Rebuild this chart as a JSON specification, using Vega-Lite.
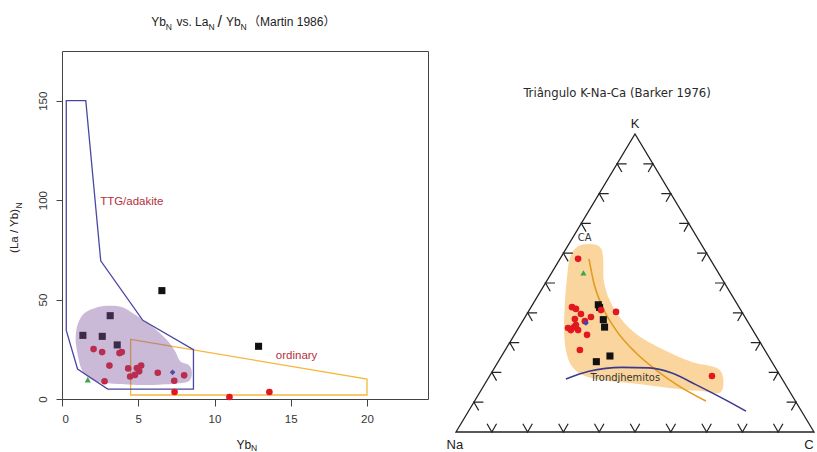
{
  "$schema": "https://vega.github.io/schema/vega-lite/v6.json",
  "background": "white",
  "padding": {"left": 8, "top": 13, "right": 0, "bottom": 0},
  "spacing": 10,
  "config": {"view": {"stroke": null}, "font": "Liberation Sans"},
  "datasets": {
    "martin": [
      {"yb": 6.55, "lay": 54.5, "grp": "grupo 1"},
      {"yb": 3.16, "lay": 41.9, "grp": "grupo 1"},
      {"yb": 1.37, "lay": 32.0, "grp": "grupo 1"},
      {"yb": 2.64, "lay": 31.5, "grp": "grupo 1"},
      {"yb": 3.62, "lay": 27.2, "grp": "grupo 1"},
      {"yb": 12.89, "lay": 26.5, "grp": "grupo 1"},
      {"yb": 2.07, "lay": 25.1, "grp": "grupo 2"},
      {"yb": 2.63, "lay": 23.6, "grp": "grupo 2"},
      {"yb": 3.77, "lay": 23.1, "grp": "grupo 2"},
      {"yb": 3.92, "lay": 23.6, "grp": "grupo 2"},
      {"yb": 3.11, "lay": 16.8, "grp": "grupo 2"},
      {"yb": 4.34, "lay": 15.4, "grp": "grupo 2"},
      {"yb": 4.91, "lay": 15.6, "grp": "grupo 2"},
      {"yb": 5.19, "lay": 16.8, "grp": "grupo 2"},
      {"yb": 5.06, "lay": 13.9, "grp": "grupo 2"},
      {"yb": 4.78, "lay": 12.1, "grp": "grupo 2"},
      {"yb": 4.47, "lay": 11.3, "grp": "grupo 2"},
      {"yb": 2.79, "lay": 8.9, "grp": "grupo 2"},
      {"yb": 6.28, "lay": 13.2, "grp": "grupo 2"},
      {"yb": 7.36, "lay": 9.2, "grp": "grupo 2"},
      {"yb": 8.01, "lay": 11.9, "grp": "grupo 2"},
      {"yb": 7.38, "lay": 3.5, "grp": "grupo 2"},
      {"yb": 10.98, "lay": 1.0, "grp": "grupo 2"},
      {"yb": 13.6, "lay": 3.5, "grp": "grupo 2"},
      {"yb": 1.69, "lay": 9.7, "grp": "grupo 3"},
      {"yb": 7.25, "lay": 13.4, "grp": "grupo 4"}
    ],
    "campos": [
      {"campo": "TTG/adakite", "i": 1, "yb": 0.28, "lay": 150},
      {"campo": "TTG/adakite", "i": 2, "yb": 1.56, "lay": 150},
      {"campo": "TTG/adakite", "i": 3, "yb": 2.54, "lay": 69.5},
      {"campo": "TTG/adakite", "i": 4, "yb": 5.3, "lay": 39.6},
      {"campo": "TTG/adakite", "i": 5, "yb": 8.62, "lay": 24.8},
      {"campo": "TTG/adakite", "i": 6, "yb": 8.62, "lay": 5.0},
      {"campo": "TTG/adakite", "i": 7, "yb": 3.0, "lay": 5.0},
      {"campo": "TTG/adakite", "i": 8, "yb": 1.02, "lay": 15.1},
      {"campo": "TTG/adakite", "i": 9, "yb": 0.28, "lay": 34.5},
      {"campo": "ordinary", "i": 1, "yb": 4.5, "lay": 30},
      {"campo": "ordinary", "i": 2, "yb": 20, "lay": 10},
      {"campo": "ordinary", "i": 3, "yb": 20, "lay": 2},
      {"campo": "ordinary", "i": 4, "yb": 4.5, "lay": 2}
    ],
    "mancha": [
      {"i": 1, "yb": 0.97, "lay": 24.8},
      {"i": 2, "yb": 0.9, "lay": 31.7},
      {"i": 3, "yb": 1.06, "lay": 38.2},
      {"i": 4, "yb": 1.48, "lay": 43.2},
      {"i": 5, "yb": 2.18, "lay": 45.8},
      {"i": 6, "yb": 2.94, "lay": 46.9},
      {"i": 7, "yb": 3.92, "lay": 46.3},
      {"i": 8, "yb": 4.8, "lay": 42.4},
      {"i": 9, "yb": 5.89, "lay": 36.6},
      {"i": 10, "yb": 6.87, "lay": 29.8},
      {"i": 11, "yb": 7.42, "lay": 24.0},
      {"i": 12, "yb": 7.75, "lay": 19.0},
      {"i": 13, "yb": 8.3, "lay": 17.2},
      {"i": 14, "yb": 8.51, "lay": 13.9},
      {"i": 15, "yb": 8.41, "lay": 9.7},
      {"i": 16, "yb": 7.86, "lay": 8.0},
      {"i": 17, "yb": 6.33, "lay": 7.2},
      {"i": 18, "yb": 4.58, "lay": 7.2},
      {"i": 19, "yb": 2.83, "lay": 8.0},
      {"i": 20, "yb": 1.95, "lay": 9.7},
      {"i": 21, "yb": 1.3, "lay": 14.7}
    ],
    "rotulos_izq": [
      {"rol": "campo", "txt": "TTG/adakite", "yb": 2.5, "lay": 99.1},
      {"rol": "campo", "txt": "ordinary", "yb": 14.02, "lay": 21.5},
      {"rol": "texto", "txt": "Yb", "yb": 5.85, "lay": 187.6},
      {"rol": "texto", "txt": "vs. La", "yb": 7.5, "lay": 187.6},
      {"rol": "barra", "txt": "/", "yb": 10.2, "lay": 187.3},
      {"rol": "texto", "txt": "Yb", "yb": 10.75, "lay": 187.6},
      {"rol": "texto", "txt": "（Martin 1986）", "yb": 12.2, "lay": 187.6},
      {"rol": "texto", "txt": "Yb", "yb": 11.44, "lay": -25.14},
      {"rol": "subindice", "txt": "N", "yb": 6.81, "lay": 185.8},
      {"rol": "subindice", "txt": "N", "yb": 9.6, "lay": 185.8},
      {"rol": "subindice", "txt": "N", "yb": 11.71, "lay": 185.8},
      {"rol": "subindice", "txt": "N", "yb": 12.4, "lay": -26.15},
      {"rol": "eje_y", "txt": "(La / Yb)", "yb": -3.05, "lay": 84.5},
      {"rol": "sub_y", "txt": "N", "yb": -2.82, "lay": 95.8}
    ],
    "barker": [
      {"tx": 39.75, "ty": 42.7, "grp": "grupo 1"},
      {"tx": 40.1, "ty": 41.8, "grp": "grupo 1"},
      {"tx": 41.15, "ty": 37.7, "grp": "grupo 1"},
      {"tx": 41.5, "ty": 35.2, "grp": "grupo 1"},
      {"tx": 39.2, "ty": 23.6, "grp": "grupo 1"},
      {"tx": 43.0, "ty": 25.5, "grp": "grupo 1"},
      {"tx": 34.1, "ty": 58.1, "grp": "grupo 2"},
      {"tx": 32.4, "ty": 41.9, "grp": "grupo 2"},
      {"tx": 33.5, "ty": 41.3, "grp": "grupo 2"},
      {"tx": 34.9, "ty": 39.6, "grp": "grupo 2"},
      {"tx": 33.2, "ty": 37.9, "grp": "grupo 2"},
      {"tx": 37.7, "ty": 38.6, "grp": "grupo 2"},
      {"tx": 36.0, "ty": 37.2, "grp": "grupo 2"},
      {"tx": 31.3, "ty": 34.9, "grp": "grupo 2"},
      {"tx": 32.1, "ty": 34.2, "grp": "grupo 2"},
      {"tx": 33.0, "ty": 35.2, "grp": "grupo 2"},
      {"tx": 34.1, "ty": 34.2, "grp": "grupo 2"},
      {"tx": 33.5, "ty": 35.9, "grp": "grupo 2"},
      {"tx": 36.6, "ty": 32.6, "grp": "grupo 2"},
      {"tx": 34.6, "ty": 27.5, "grp": "grupo 2"},
      {"tx": 40.5, "ty": 40.9, "grp": "grupo 2"},
      {"tx": 44.7, "ty": 40.3, "grp": "grupo 2"},
      {"tx": 71.5, "ty": 18.8, "grp": "grupo 2"},
      {"tx": 35.6, "ty": 53.4, "grp": "grupo 3"},
      {"tx": 36.3, "ty": 36.6, "grp": "grupo 4"}
    ],
    "campo_ca": [
      {"i": 1, "tx": 37.15, "ty": 63.1},
      {"i": 2, "tx": 40.2, "ty": 62.1},
      {"i": 3, "tx": 41.1, "ty": 58.4},
      {"i": 4, "tx": 41.3, "ty": 50.7},
      {"i": 5, "tx": 43.0, "ty": 44.0},
      {"i": 6, "tx": 46.1, "ty": 37.9},
      {"i": 7, "tx": 51.1, "ty": 32.2},
      {"i": 8, "tx": 58.7, "ty": 27.2},
      {"i": 9, "tx": 65.9, "ty": 23.5},
      {"i": 10, "tx": 73.7, "ty": 20.8},
      {"i": 11, "tx": 74.0, "ty": 13.4},
      {"i": 12, "tx": 67.9, "ty": 13.8},
      {"i": 13, "tx": 59.5, "ty": 14.8},
      {"i": 14, "tx": 51.1, "ty": 16.1},
      {"i": 15, "tx": 42.7, "ty": 17.1},
      {"i": 16, "tx": 36.6, "ty": 18.5},
      {"i": 17, "tx": 33.0, "ty": 21.1},
      {"i": 18, "tx": 31.0, "ty": 25.8},
      {"i": 19, "tx": 30.2, "ty": 33.2},
      {"i": 20, "tx": 30.4, "ty": 43.3},
      {"i": 21, "tx": 31.0, "ty": 51.7},
      {"i": 22, "tx": 31.8, "ty": 58.4},
      {"i": 23, "tx": 33.8, "ty": 62.1}
    ],
    "curvas": [
      {"curva": "CA", "tx": 37.15, "ty": 58.1},
      {"curva": "CA", "tx": 38.5, "ty": 50.0},
      {"curva": "CA", "tx": 40.8, "ty": 42.3},
      {"curva": "CA", "tx": 44.7, "ty": 34.2},
      {"curva": "CA", "tx": 50.3, "ty": 26.5},
      {"curva": "CA", "tx": 55.9, "ty": 20.8},
      {"curva": "CA", "tx": 62.3, "ty": 15.4},
      {"curva": "CA", "tx": 69.8, "ty": 10.4},
      {"curva": "Trondjhemitos", "tx": 30.7, "ty": 17.8},
      {"curva": "Trondjhemitos", "tx": 37.15, "ty": 20.4},
      {"curva": "Trondjhemitos", "tx": 46.4, "ty": 21.7},
      {"curva": "Trondjhemitos", "tx": 53.9, "ty": 21.5},
      {"curva": "Trondjhemitos", "tx": 60.3, "ty": 19.8},
      {"curva": "Trondjhemitos", "tx": 67.0, "ty": 15.9},
      {"curva": "Trondjhemitos", "tx": 75.4, "ty": 10.7},
      {"curva": "Trondjhemitos", "tx": 81.0, "ty": 7.0}
    ],
    "triangulo": [
      {"vertice": "Na", "i": 1, "tx": 0, "ty": 0},
      {"vertice": "C", "i": 2, "tx": 100, "ty": 0},
      {"vertice": "K", "i": 3, "tx": 50, "ty": 100}
    ],
    "marcas": [
      {"lado": "Na-C", "tx": 10, "ty": 0}, {"lado": "Na-C", "tx": 20, "ty": 0},
      {"lado": "Na-C", "tx": 30, "ty": 0}, {"lado": "Na-C", "tx": 40, "ty": 0},
      {"lado": "Na-C", "tx": 50, "ty": 0}, {"lado": "Na-C", "tx": 60, "ty": 0},
      {"lado": "Na-C", "tx": 70, "ty": 0}, {"lado": "Na-C", "tx": 80, "ty": 0},
      {"lado": "Na-C", "tx": 90, "ty": 0},
      {"lado": "Na-K", "tx": 5, "ty": 10}, {"lado": "Na-K", "tx": 10, "ty": 20},
      {"lado": "Na-K", "tx": 15, "ty": 30}, {"lado": "Na-K", "tx": 20, "ty": 40},
      {"lado": "Na-K", "tx": 25, "ty": 50}, {"lado": "Na-K", "tx": 30, "ty": 60},
      {"lado": "Na-K", "tx": 35, "ty": 70}, {"lado": "Na-K", "tx": 40, "ty": 80},
      {"lado": "Na-K", "tx": 45, "ty": 90},
      {"lado": "C-K", "tx": 95, "ty": 10}, {"lado": "C-K", "tx": 90, "ty": 20},
      {"lado": "C-K", "tx": 85, "ty": 30}, {"lado": "C-K", "tx": 80, "ty": 40},
      {"lado": "C-K", "tx": 75, "ty": 50}, {"lado": "C-K", "tx": 70, "ty": 60},
      {"lado": "C-K", "tx": 65, "ty": 70}, {"lado": "C-K", "tx": 60, "ty": 80},
      {"lado": "C-K", "tx": 55, "ty": 90}
    ],
    "rotulos_der": [
      {"rol": "titulo", "txt": "Triângulo K-Na-Ca (Barker 1976)", "tx": 45.0, "ty": 113.8},
      {"rol": "vertice", "txt": "K", "tx": 50, "ty": 103.4},
      {"rol": "vertice", "txt": "Na", "tx": -0.3, "ty": -4.4},
      {"rol": "vertice", "txt": "C", "tx": 98.6, "ty": -4.4},
      {"rol": "curva", "txt": "CA", "tx": 34.0, "ty": 65.1},
      {"rol": "curva", "txt": "Trondjhemitos", "tx": 37.6, "ty": 18.1}
    ]
  },
  "hconcat": [
    {
      "width": 366,
      "height": 348,
      "view": {"stroke": "#444", "strokeWidth": 1},
      "encoding": {
        "x": {
          "field": "yb", "type": "quantitative",
          "scale": {"domain": [0, 24], "nice": false, "zero": false},
          "axis": {"title": null, "values": [0, 5, 10, 15, 20], "grid": false, "domain": false,
                   "tickColor": "#444", "tickSize": 7, "labelPadding": 7,
                   "labelFontSize": 11.5, "labelColor": "#333", "labelFont": "Liberation Sans"}
        },
        "y": {
          "field": "lay", "type": "quantitative",
          "scale": {"domain": [0, 175], "nice": false, "zero": false},
          "axis": {"title": null, "values": [0, 50, 100, 150], "grid": false, "domain": false,
                   "tickColor": "#444", "tickSize": 6, "labelPadding": 8,
                   "labelAngle": 270, "labelAlign": "center", "labelBaseline": "bottom",
                   "labelFlush": false,
                   "labelFontSize": 11.5, "labelColor": "#333", "labelFont": "Liberation Sans"}
        }
      },
      "layer": [
        {
          "data": {"name": "campos"},
          "transform": [{"filter": "datum.campo == 'ordinary'"}],
          "mark": {"type": "line", "interpolate": "linear-closed", "color": "#f6b73c", "strokeWidth": 1.3},
          "encoding": {"order": {"field": "i"}}
        },
        {
          "data": {"name": "campos"},
          "transform": [{"filter": "datum.campo == 'TTG/adakite'"}],
          "mark": {"type": "line", "interpolate": "linear-closed", "color": "#4a47a3", "strokeWidth": 1.3},
          "encoding": {"order": {"field": "i"}}
        },
        {
          "data": {"name": "martin"},
          "mark": {"type": "point", "filled": true, "opacity": 1},
          "encoding": {
            "color": {"field": "grp", "type": "nominal", "legend": null,
                      "scale": {"domain": ["grupo 1", "grupo 2", "grupo 3", "grupo 4"],
                                "range": ["#111111", "#e3171f", "#3aa845", "#3a48b0"]}},
            "shape": {"field": "grp", "type": "nominal", "legend": null,
                      "scale": {"domain": ["grupo 1", "grupo 2", "grupo 3", "grupo 4"],
                                "range": ["square", "circle", "triangle-up", "diamond"]}},
            "size": {"field": "grp", "type": "nominal", "legend": null,
                     "scale": {"domain": ["grupo 1", "grupo 2", "grupo 3", "grupo 4"],
                               "range": [50, 32, 50, 28]}}
          }
        },
        {
          "data": {"name": "mancha"},
          "mark": {"type": "line", "filled": true, "interpolate": "cardinal-closed",
                   "color": "#7a4f9a", "fillOpacity": 0.4, "strokeWidth": 0},
          "encoding": {"order": {"field": "i"}}
        },
        {
          "data": {"name": "rotulos_izq"},
          "transform": [{"filter": "datum.rol == 'campo'"}],
          "mark": {"type": "text", "align": "left", "baseline": "middle", "fontSize": 11.5, "color": "#b5303c"},
          "encoding": {"text": {"field": "txt", "type": "nominal"}}
        },
        {
          "data": {"name": "rotulos_izq"},
          "transform": [{"filter": "datum.rol == 'texto'"}],
          "mark": {"type": "text", "align": "left", "baseline": "alphabetic", "fontSize": 12,
                   "font": "Liberation Sans, Noto Sans CJK SC", "color": "#222"},
          "encoding": {"text": {"field": "txt", "type": "nominal"}}
        },
        {
          "data": {"name": "rotulos_izq"},
          "transform": [{"filter": "datum.rol == 'barra'"}],
          "mark": {"type": "text", "align": "left", "baseline": "alphabetic", "fontSize": 16, "color": "#222"},
          "encoding": {"text": {"field": "txt", "type": "nominal"}}
        },
        {
          "data": {"name": "rotulos_izq"},
          "transform": [{"filter": "datum.rol == 'subindice'"}],
          "mark": {"type": "text", "align": "left", "baseline": "alphabetic", "fontSize": 8.5, "color": "#222"},
          "encoding": {"text": {"field": "txt", "type": "nominal"}}
        },
        {
          "data": {"name": "rotulos_izq"},
          "transform": [{"filter": "datum.rol == 'eje_y'"}],
          "mark": {"type": "text", "align": "center", "baseline": "middle", "angle": 270, "fontSize": 11.5, "color": "#222"},
          "encoding": {"text": {"field": "txt", "type": "nominal"}}
        },
        {
          "data": {"name": "rotulos_izq"},
          "transform": [{"filter": "datum.rol == 'sub_y'"}],
          "mark": {"type": "text", "align": "left", "baseline": "middle", "angle": 270, "fontSize": 8.5, "color": "#222"},
          "encoding": {"text": {"field": "txt", "type": "nominal"}}
        }
      ]
    },
    {
      "width": 377,
      "height": 404,
      "encoding": {
        "x": {"field": "tx", "type": "quantitative",
              "scale": {"domain": [-4.75, 100.56], "nice": false, "zero": false}, "axis": null},
        "y": {"field": "ty", "type": "quantitative",
              "scale": {"domain": [-7.72, 127.85], "nice": false, "zero": false}, "axis": null}
      },
      "layer": [
        {
          "data": {"name": "campo_ca"},
          "mark": {"type": "line", "filled": true, "interpolate": "cardinal-closed",
                   "color": "#fad69e", "fillOpacity": 1, "strokeWidth": 0},
          "encoding": {"order": {"field": "i"}}
        },
        {
          "data": {"name": "curvas"},
          "transform": [{"filter": "datum.curva == 'CA'"}],
          "mark": {"type": "line", "interpolate": "monotone", "color": "#e39a1f", "strokeWidth": 1.6},
          "encoding": {}
        },
        {
          "data": {"name": "curvas"},
          "transform": [{"filter": "datum.curva == 'Trondjhemitos'"}],
          "mark": {"type": "line", "interpolate": "monotone", "color": "#3c3a8e", "strokeWidth": 1.6},
          "encoding": {}
        },
        {
          "data": {"name": "triangulo"},
          "mark": {"type": "line", "interpolate": "linear-closed", "color": "#222", "strokeWidth": 1.3},
          "encoding": {"order": {"field": "i"}}
        },
        {
          "data": {"name": "marcas"},
          "transform": [{"filter": "datum.lado == 'Na-C'"}],
          "mark": {"type": "point", "shape": "M-0.5,-0.866L0,0L0.5,-0.866", "filled": false,
                   "size": 361, "color": "#222", "strokeWidth": 1.2, "opacity": 1}
        },
        {
          "data": {"name": "marcas"},
          "transform": [{"filter": "datum.lado == 'Na-K'"}],
          "mark": {"type": "point", "shape": "M1,0L0,0L0.5,0.866", "filled": false,
                   "size": 361, "color": "#222", "strokeWidth": 1.2, "opacity": 1}
        },
        {
          "data": {"name": "marcas"},
          "transform": [{"filter": "datum.lado == 'C-K'"}],
          "mark": {"type": "point", "shape": "M-1,0L0,0L-0.5,0.866", "filled": false,
                   "size": 361, "color": "#222", "strokeWidth": 1.2, "opacity": 1}
        },
        {
          "data": {"name": "barker"},
          "mark": {"type": "point", "filled": true, "opacity": 1},
          "encoding": {
            "color": {"field": "grp", "type": "nominal", "legend": null,
                      "scale": {"domain": ["grupo 1", "grupo 2", "grupo 3", "grupo 4"],
                                "range": ["#111111", "#e3171f", "#3aa845", "#3a6fc0"]}},
            "shape": {"field": "grp", "type": "nominal", "legend": null,
                      "scale": {"domain": ["grupo 1", "grupo 2", "grupo 3", "grupo 4"],
                                "range": ["square", "circle", "triangle-up", "diamond"]}},
            "size": {"field": "grp", "type": "nominal", "legend": null,
                     "scale": {"domain": ["grupo 1", "grupo 2", "grupo 3", "grupo 4"],
                               "range": [50, 36, 55, 30]}}
          }
        },
        {
          "data": {"name": "rotulos_der"},
          "transform": [{"filter": "datum.rol == 'titulo'"}],
          "mark": {"type": "text", "align": "center", "baseline": "middle", "fontSize": 13,
                   "font": "Liberation Sans Narrow, DejaVu Sans Condensed, sans-serif", "color": "#2a2a2a"},
          "encoding": {"text": {"field": "txt", "type": "nominal"}}
        },
        {
          "data": {"name": "rotulos_der"},
          "transform": [{"filter": "datum.rol == 'vertice'"}],
          "mark": {"type": "text", "align": "center", "baseline": "middle", "fontSize": 13, "color": "#222"},
          "encoding": {"text": {"field": "txt", "type": "nominal"}}
        },
        {
          "data": {"name": "rotulos_der"},
          "transform": [{"filter": "datum.rol == 'curva'"}],
          "mark": {"type": "text", "align": "left", "baseline": "middle", "fontSize": 11,
                   "font": "Liberation Sans Narrow, DejaVu Sans Condensed, sans-serif", "color": "#333"},
          "encoding": {"text": {"field": "txt", "type": "nominal"}}
        }
      ]
    }
  ]
}
